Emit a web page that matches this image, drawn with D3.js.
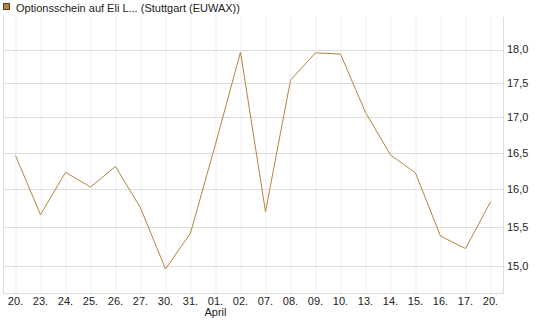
<!DOCTYPE html>
<html>
<head>
<meta charset="utf-8">
<script src="https://cdn.jsdelivr.net/npm/d3@7"></script>
<style>
    body { margin: 0; background: #fff; }
    text { font-family: "Liberation Sans", Arial, sans-serif; font-size: 11px; fill: #222; }
</style>
</head>
<body>
<svg id="chart" width="545" height="327"></svg>
<script>
const dates = ["20.", "23.", "24.", "25.", "26.", "27.", "30.", "31.", "01.", "02.",
    "07.", "08.", "09.", "10.", "13.", "14.", "15.", "16.", "17.", "20."];
const prices = [16.46, 15.66, 16.23, 16.03, 16.31, 15.75, 14.96, 15.42, 16.62, 17.96,
    15.70, 17.54, 17.95, 17.93, 17.07, 16.47, 16.22, 15.38, 15.22, 15.83];
const yTicks = [15.0, 15.5, 16.0, 16.5, 17.0, 17.5, 18.0];
const monthLabels = [{ index: 8, text: "April" }];
const seriesName = "Optionsschein auf Eli L... (Stuttgart (EUWAX))";

const svg = d3.select("#chart");
const plotLeft = 3, plotRight = 503, plotTop = 17, plotBottom = 293;
const lineColor = "#b5843a";

const x = d3.scaleBand()
    .domain(d3.range(dates.length))
    .range([plotLeft, plotRight]);

const y = d3.scaleLog()
    .domain([14.66, 18.5])
    .range([plotBottom, plotTop]);

const cx = i => x(i) + x.bandwidth() / 2;

// vertical grid
svg.append("g")
    .selectAll("line")
    .data(d3.range(dates.length))
    .enter().append("line")
    .attr("x1", d => cx(d) + 0.5).attr("x2", d => cx(d) + 0.5)
    .attr("y1", plotTop).attr("y2", plotBottom)
    .attr("stroke", "#eeeeee");

// horizontal grid
svg.append("g")
    .selectAll("line")
    .data(yTicks)
    .enter().append("line")
    .attr("x1", plotLeft).attr("x2", plotRight)
    .attr("y1", d => Math.round(y(d)) + 0.5).attr("y2", d => Math.round(y(d)) + 0.5)
    .attr("stroke", "#dddddd");

// frame lines
svg.append("line").attr("x1", plotLeft + 0.5).attr("x2", plotLeft + 0.5).attr("y1", plotTop).attr("y2", plotBottom + 0.5)
    .attr("stroke", "#dddddd");
svg.append("line").attr("x1", plotRight + 0.5).attr("x2", plotRight + 0.5).attr("y1", plotTop).attr("y2", plotBottom + 0.5)
    .attr("stroke", "#dddddd");
svg.append("line").attr("x1", plotLeft).attr("x2", plotRight + 1).attr("y1", plotBottom + 0.5).attr("y2", plotBottom + 0.5)
    .attr("stroke", "#dddddd");

// y labels
svg.append("g")
    .selectAll("text")
    .data(yTicks)
    .enter().append("text")
    .attr("x", 507)
    .attr("y", d => y(d))
    .attr("dy", "0.35em")
    .text(d => d3.format(".1f")(d).replace(".", ","));

// x labels
svg.append("g")
    .selectAll("text")
    .data(dates)
    .enter().append("text")
    .attr("x", (d, i) => cx(i))
    .attr("y", 305)
    .attr("text-anchor", "middle")
    .text(d => d);

svg.append("g")
    .selectAll("text")
    .data(monthLabels)
    .enter().append("text")
    .attr("x", d => cx(d.index))
    .attr("y", 316)
    .attr("text-anchor", "middle")
    .text(d => d.text);

// price line
const line = d3.line()
    .x((d, i) => cx(i))
    .y(d => y(d));

svg.append("path")
    .datum(prices)
    .attr("fill", "none")
    .attr("stroke", lineColor)
    .attr("stroke-width", 1)
    .attr("d", line);

// legend
svg.append("rect")
    .attr("x", 3.5).attr("y", 3.5)
    .attr("width", 6).attr("height", 6)
    .attr("fill", lineColor)
    .attr("stroke", "#5a4020");

svg.append("text")
    .attr("x", 16)
    .attr("y", 11.5)
    .text(seriesName);
</script>
</body>
</html>
